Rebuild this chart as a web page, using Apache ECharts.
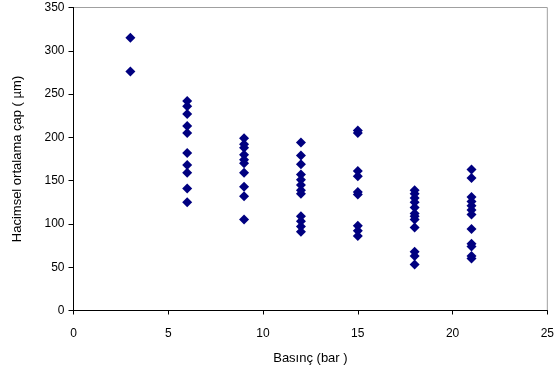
<!DOCTYPE html>
<html>
<head>
<meta charset="utf-8">
<script src="https://cdn.jsdelivr.net/npm/echarts@6/dist/echarts.min.js"></script>
<style>
  html, body { margin: 0; padding: 0; background: #fff; }
  #main { width: 557px; height: 380px; }
</style>
</head>
<body>
<div id="main"></div>
<script>
// basınç (bar) değerleri ve her birine ait ölçümler
const pressures = [3, 6, 9, 12, 15, 18, 21];
const at3 = [315, 276];
const at6 = [242, 236, 227, 213, 205, 182, 168, 159, 141, 125];
const at9 = [199, 192, 188, 180, 174, 170, 159, 143, 132, 105];
const at12 = [194, 179, 169, 157, 151, 145, 139, 135, 109, 103, 97, 91];
const at15 = [208, 205, 161, 155, 137, 134, 98, 92, 86];
const at18 = [139, 135, 130, 125, 119, 112, 109, 105, 96, 68, 63, 53];
const at21 = [163, 153, 131, 126, 121, 116, 111, 94, 77, 74, 63, 60];
const xTicks = [0, 5, 10, 15, 20, 25];
const yTicks = [0, 50, 100, 150, 200, 250, 300, 350];

const groups = [at3, at6, at9, at12, at15, at18, at21];
const points = [];
groups.forEach((vals, i) => {
  vals.forEach(v => points.push([pressures[i], v]));
});

const myChart = echarts.init(document.getElementById("main"), null, {
  width: 557,
  height: 380,
});

const font = "Liberation Sans, Arial, sans-serif";

const option = {
  animation: false,
  grid: {
    left: 73.5,
    right: 8.5,
    top: 7.5,
    bottom: 69.5,
    show: true,
    borderColor: "#a0a0a0",
    borderWidth: 1,
  },
  xAxis: {
    type: "value",
    min: xTicks[0],
    max: xTicks[xTicks.length - 1],
    interval: 5,
    name: "Basınç (bar )",
    nameLocation: "middle",
    nameGap: 41,
    nameTextStyle: { color: "#000", fontSize: 13, fontFamily: font },
    axisLine: { show: true, lineStyle: { color: "#000", width: 1 } },
    axisTick: { show: true, length: 4, lineStyle: { color: "#000" } },
    axisLabel: { color: "#000", fontSize: 12, fontFamily: font, margin: 17 },
    splitLine: { show: false },
  },
  yAxis: {
    type: "value",
    min: yTicks[0],
    max: yTicks[yTicks.length - 1],
    interval: 50,
    name: "Hacimsel ortalama çap ( µm)",
    nameLocation: "middle",
    nameGap: 50,
    nameTextStyle: { color: "#000", fontSize: 13, fontFamily: font },
    axisLine: { show: true, lineStyle: { color: "#000", width: 1 } },
    axisTick: { show: true, length: 5, lineStyle: { color: "#000" } },
    axisLabel: { color: "#000", fontSize: 12, fontFamily: font, margin: 9 },
    splitLine: { show: false },
  },
  series: [
    {
      type: "scatter",
      data: points,
      symbol: "diamond",
      symbolSize: [10, 10],
      itemStyle: { color: "#000080", opacity: 1 },
    },
  ],
};

myChart.setOption(option);
</script>
</body>
</html>
